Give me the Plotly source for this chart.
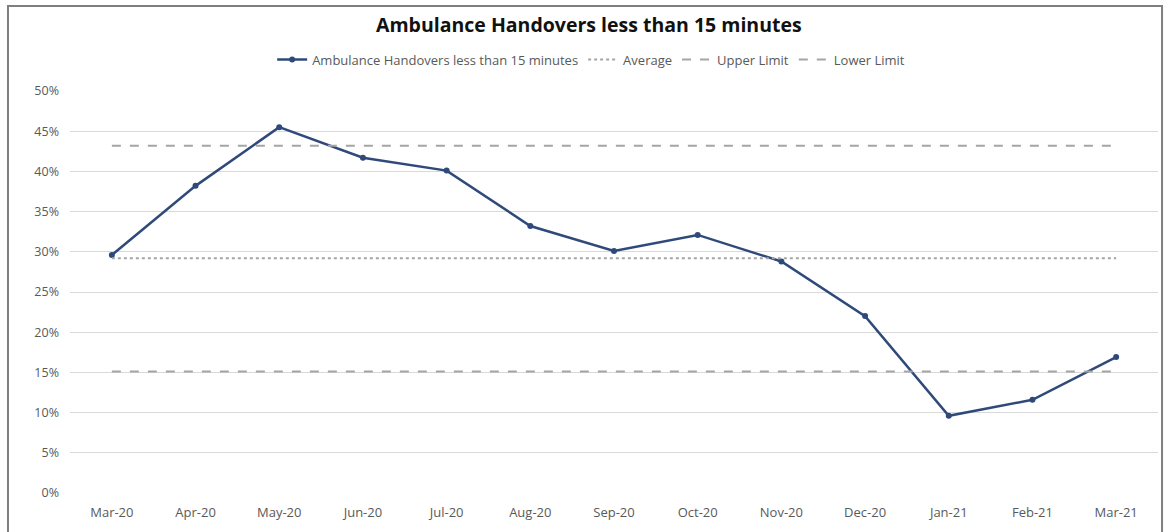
import plotly.graph_objects as go

# Monthly data, March 2020 to March 2021
months = ["Mar-20", "Apr-20", "May-20", "Jun-20", "Jul-20", "Aug-20", "Sep-20",
          "Oct-20", "Nov-20", "Dec-20", "Jan-21", "Feb-21", "Mar-21"]
handovers_15 = [0.296, 0.382, 0.455, 0.417, 0.401, 0.332, 0.301,
                0.321, 0.288, 0.220, 0.096, 0.116, 0.169]
average_value = 0.292
upper_limit_value = 0.432
lower_limit_value = 0.151

y_tick_values = [0, 0.05, 0.10, 0.15, 0.20, 0.25, 0.30, 0.35, 0.40, 0.45, 0.50]
y_tick_labels = ["0%", "5%", "10%", "15%", "20%", "25%", "30%", "35%", "40%", "45%", "50%"]

navy = "#2F4A7A"
limit_grey = "#A5A5A5"
text_grey = "#595959"
font_family = "Open Sans, Lato, sans-serif"

fig = go.Figure()

fig.add_trace(go.Scatter(
    x=months, y=handovers_15, mode="lines+markers",
    name="Ambulance Handovers less than 15 minutes",
    line=dict(color=navy, width=2.5),
    marker=dict(color=navy, size=6),
))
fig.add_trace(go.Scatter(
    x=months, y=[average_value] * len(months), mode="lines",
    name="Average",
    line=dict(color=limit_grey, width=2, dash="dot"),
))
fig.add_trace(go.Scatter(
    x=months, y=[upper_limit_value] * len(months), mode="lines",
    name="Upper Limit",
    line=dict(color=limit_grey, width=2, dash="dash"),
))
fig.add_trace(go.Scatter(
    x=months, y=[lower_limit_value] * len(months), mode="lines",
    name="Lower Limit",
    line=dict(color=limit_grey, width=2, dash="dash"),
))

# Chart frame around the whole figure
fig.add_shape(
    type="rect", xref="paper", yref="paper",
    x0=-0.057, x1=1.0037, y0=-0.2, y1=1.2114,
    line=dict(color="#7F7F7F", width=2), fillcolor="rgba(0,0,0,0)", layer="below",
)

fig.update_layout(
    width=1166, height=532,
    margin=dict(l=70, r=8, t=91, b=39),
    paper_bgcolor="white", plot_bgcolor="white",
    font=dict(family=font_family, color=text_grey, size=12),
    title=dict(
        text="<b>Ambulance Handovers less than 15 minutes</b>",
        x=0.505, xanchor="center", y=0.953, yanchor="middle",
        font=dict(family=font_family, size=19.5, color="#111111"),
    ),
    legend=dict(
        orientation="h", x=0.479, xanchor="center", y=1.078, yanchor="middle",
        font=dict(family=font_family, size=13, color=text_grey),
        itemwidth=30, bgcolor="rgba(0,0,0,0)", traceorder="normal",
    ),
    showlegend=True,
    xaxis=dict(
        type="category", range=[-0.5, 12.5], showgrid=False, zeroline=False,
        showline=False, ticks="", tickfont=dict(size=13, color=text_grey),
        ticklabelstandoff=10,
    ),
    yaxis=dict(
        range=[0, 0.5], tickvals=y_tick_values, ticktext=y_tick_labels,
        showgrid=True, gridcolor="#D9D9D9", gridwidth=1,
        zeroline=False, showline=False, ticks="",
        tickfont=dict(size=12.5, color=text_grey), ticklabelstandoff=10,
    ),
)

fig.write_html("out.html")
